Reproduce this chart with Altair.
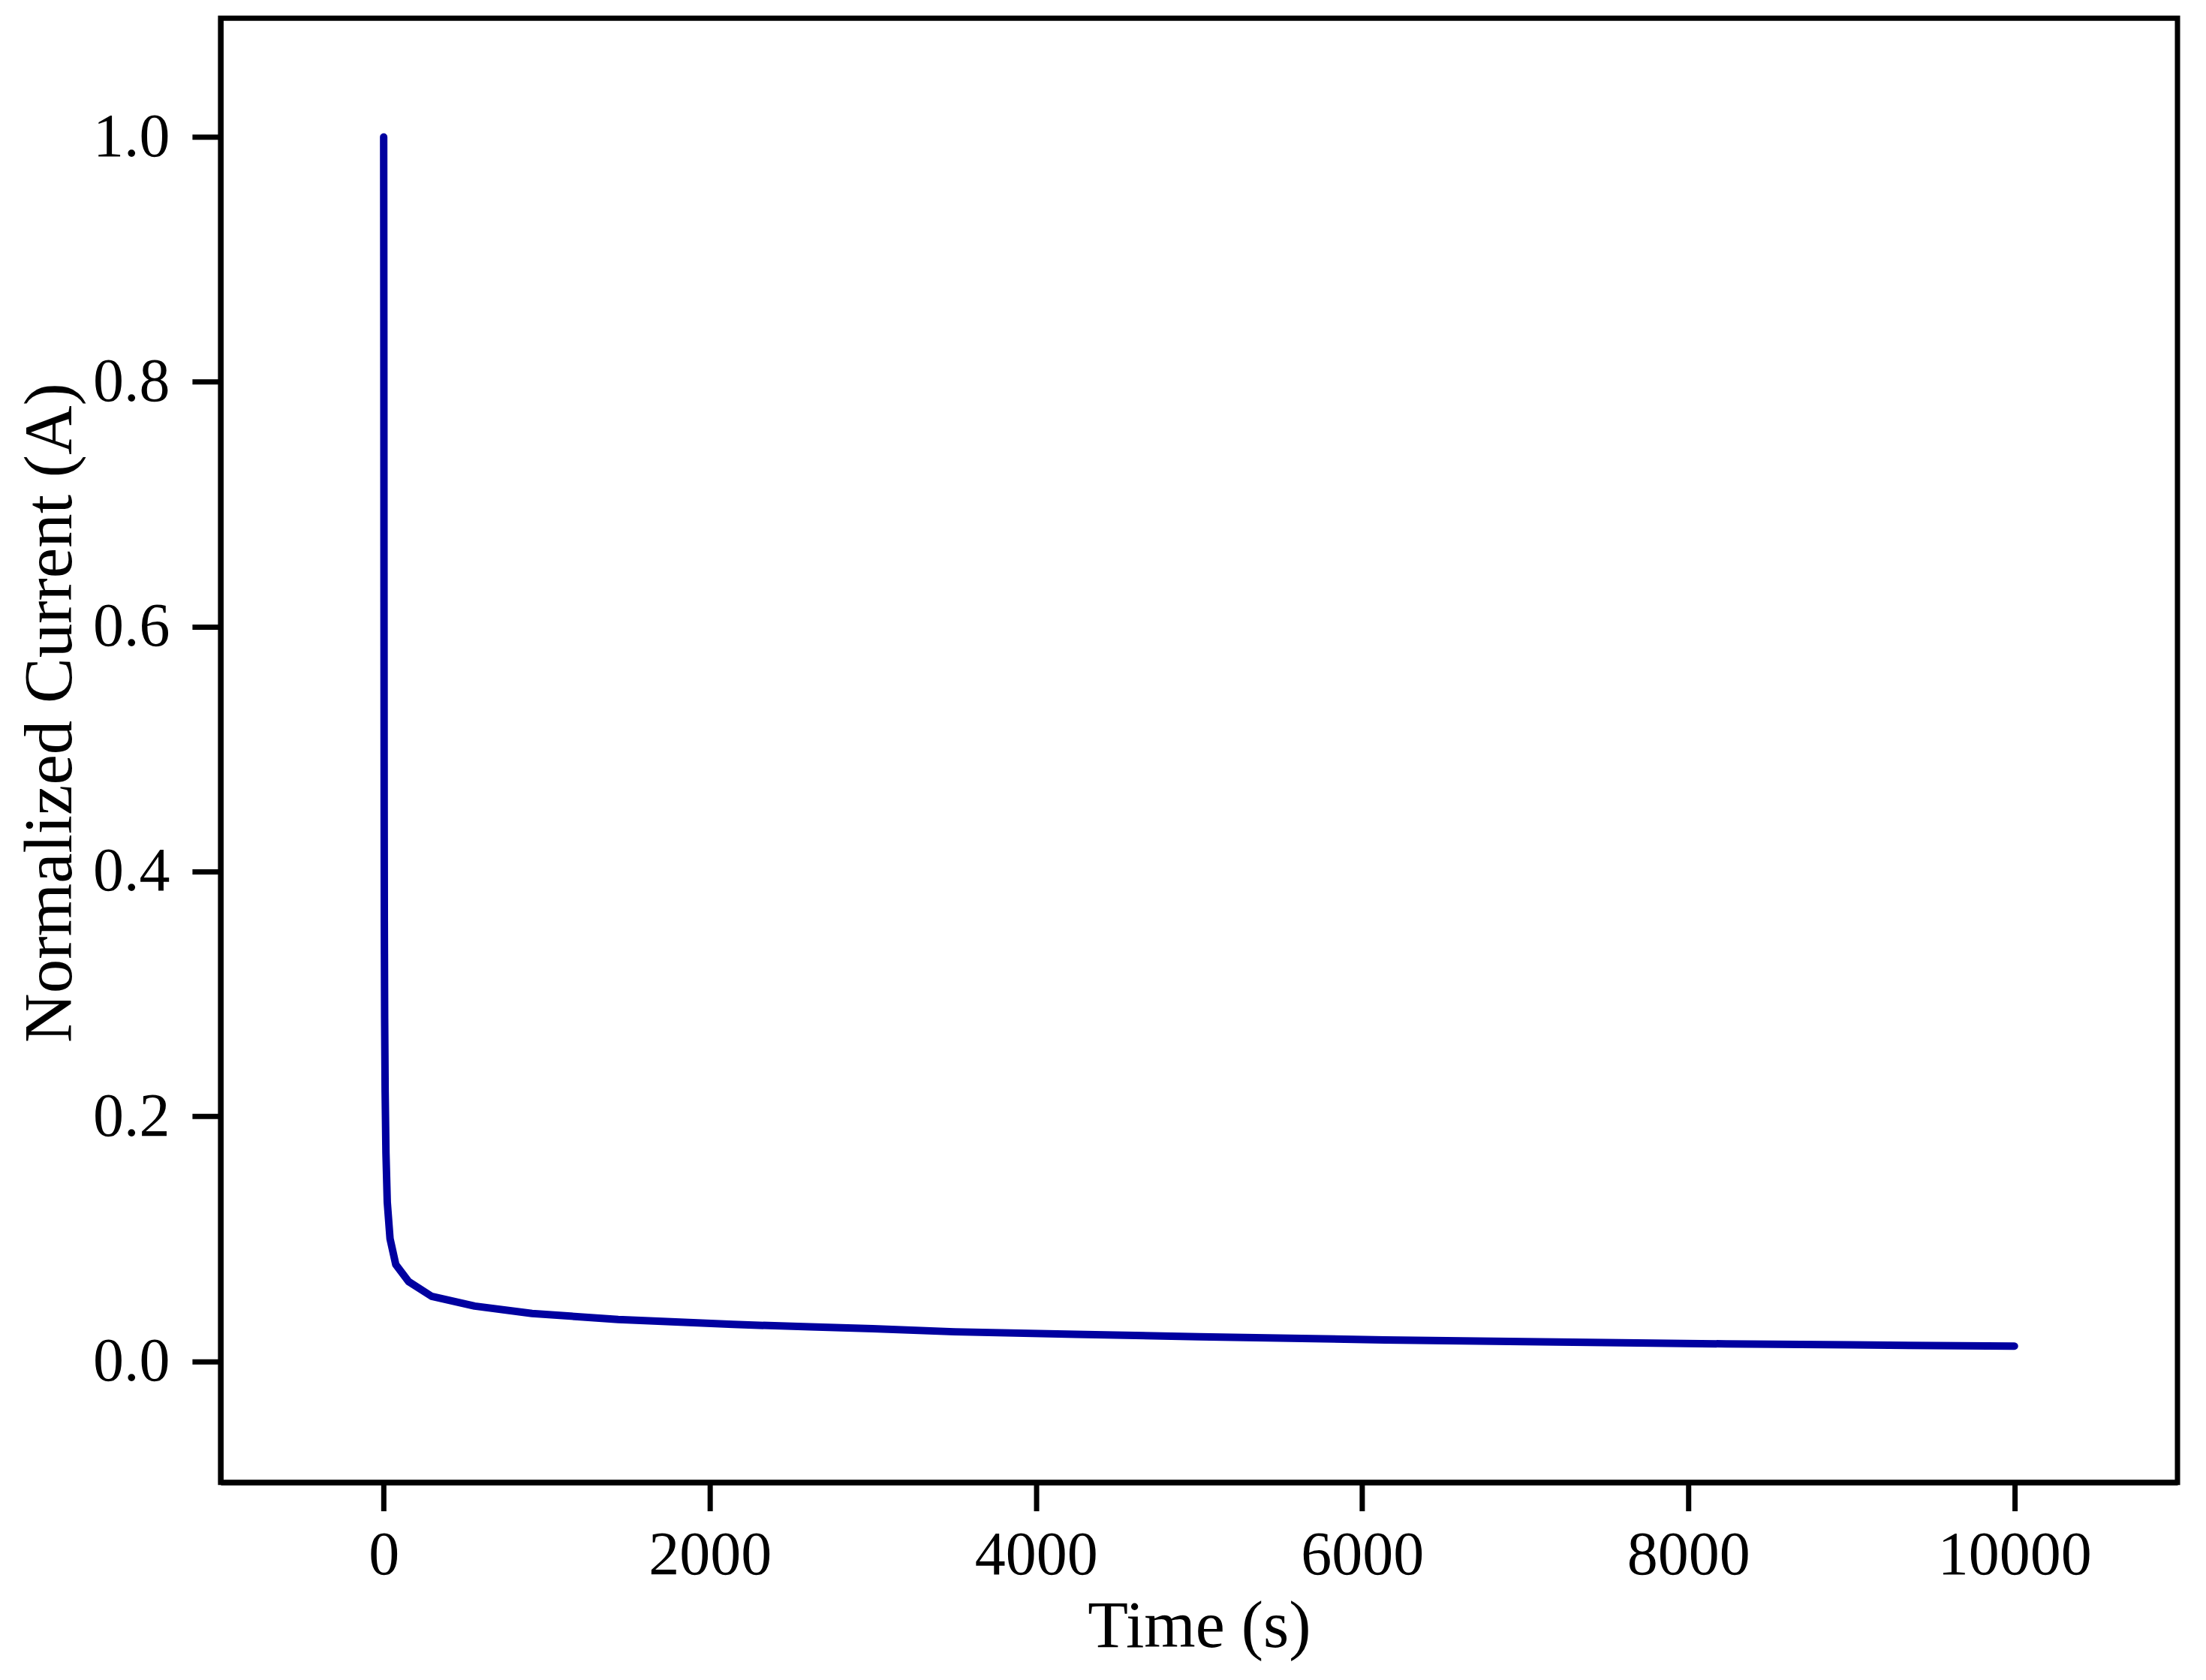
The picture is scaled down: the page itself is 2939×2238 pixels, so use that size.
import altair as alt
import pandas as pd

# Time (s) and normalized current
time_s = [0, 1, 2, 3, 4, 6, 9, 14, 22, 39, 74, 153, 294, 558, 910, 1438,
          2143, 2614, 3000, 3500, 4243, 5000, 6138, 7000, 8231, 9000, 10000]
current = [1.0, 0.85, 0.62, 0.45, 0.36, 0.28, 0.22, 0.17, 0.13, 0.10, 0.079,
           0.065, 0.053, 0.045, 0.039, 0.034, 0.030, 0.028, 0.0265, 0.024,
           0.022, 0.020, 0.0174, 0.0160, 0.0141, 0.0133, 0.0123]

x_ticks = [0, 2000, 4000, 6000, 8000, 10000]
y_ticks = [0.0, 0.2, 0.4, 0.6, 0.8, 1.0]

df = pd.DataFrame({"t": time_s, "i": current})

FONT = "Liberation Serif"

chart = alt.Chart(df).mark_line(
    color="#0000a0", strokeWidth=10, strokeCap="round", strokeJoin="round"
).encode(
    x=alt.X("t:Q", title="Time (s)",
            scale=alt.Scale(domain=[-1000, 11000], nice=False, zero=False),
            axis=alt.Axis(values=x_ticks, format="d", grid=False,
                          tickSize=38, tickWidth=7, labelPadding=19,
                          labelLimit=0, titlePadding=11, titleFontSize=88)),
    y=alt.Y("i:Q", title="Normalized Current (A)",
            scale=alt.Scale(domain=[-0.099, 1.097], nice=False, zero=False),
            axis=alt.Axis(values=y_ticks, format=".1f", grid=False,
                          tickSize=38, tickWidth=7, labelPadding=30,
                          labelLimit=0, titlePadding=10, titleY=925,
                          titleFontSize=91)),
).properties(
    width=2608, height=1951,
    padding={"left": 286, "top": 16, "right": 30, "bottom": 250},
    autosize=alt.AutoSizeParams(type="none"),
).configure_view(
    stroke="black", strokeWidth=7
).configure_axis(
    domainColor="black", domainWidth=7, tickColor="black",
    labelFont=FONT, labelFontSize=82, labelColor="black",
    titleFont=FONT, titleColor="black",
    titleFontWeight="normal",
)

chart.save("out.html", embed_options={"renderer": "svg", "actions": False})
